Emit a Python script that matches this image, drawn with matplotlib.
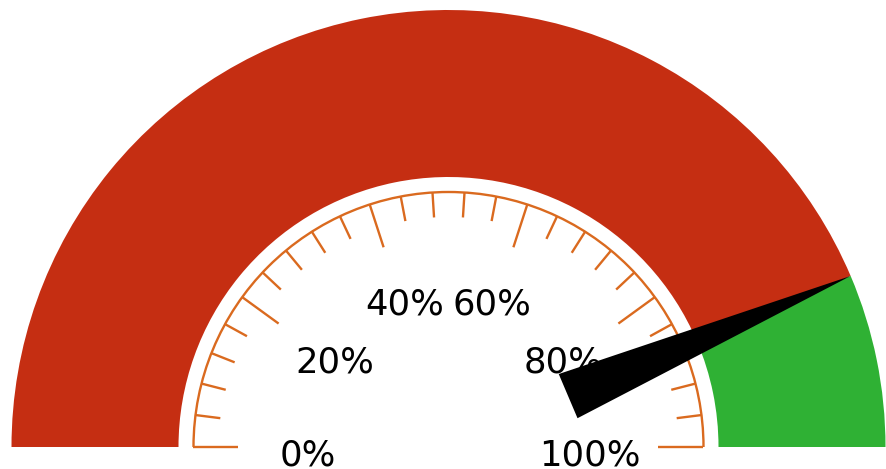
import numpy as np
import matplotlib
matplotlib.use("Agg")
import matplotlib.pyplot as plt
from matplotlib.patches import Wedge, Arc, Polygon

# ---- data ----
band_starts = [0, 87.2]
band_ends = [87.2, 100]
band_colors = ["#C52E12", "#2FB134"]
needle_value = 87.2
tick_labels = ["0%", "20%", "40%", "60%", "80%", "100%"]
label_values = [0, 20, 40, 60, 80, 100]
major_step = 20
minor_step = 4

# ---- layout ----
W, H = 886, 469
cx, cy = 448.5, 22.0
R_out, R_in = 437.0, 270.0
R_tick = 255.0
major_len, minor_len = 45.0, 25.0
tick_color = "#DA6A1F"

def ang(v):
    return np.deg2rad(180.0 - v / 100.0 * 180.0)

fig = plt.figure(figsize=(W / 100, H / 100), dpi=100)
ax = fig.add_axes([0, 0, 1, 1])
ax.set_xlim(0, W)
ax.set_ylim(0, H)
ax.set_aspect("equal")
ax.axis("off")

for s, e, c in zip(band_starts, band_ends, band_colors):
    t1 = np.rad2deg(ang(e))
    t2 = np.rad2deg(ang(s))
    ax.add_patch(Wedge((cx, cy), R_out, t1, t2, width=R_out - R_in,
                       facecolor=c, edgecolor="none", antialiased=True, zorder=1))

# tick arc
ax.add_patch(Arc((cx, cy), 2 * R_tick, 2 * R_tick, theta1=0, theta2=180,
                 color=tick_color, lw=1.7, zorder=2))
for v in np.arange(0, 100 + minor_step / 2, minor_step):
    a = ang(v)
    rem = v % major_step
    L = major_len if (rem < 1e-6 or abs(rem - major_step) < 1e-6) else minor_len
    ax.plot([cx + R_tick * np.cos(a), cx + (R_tick - L) * np.cos(a)],
            [cy + R_tick * np.sin(a), cy + (R_tick - L) * np.sin(a)],
            color=tick_color, lw=1.7, solid_capstyle="butt", zorder=2)

# labels
rx, ry = 141.0, 158.0
for v, lab in zip(label_values, tick_labels):
    a = ang(v)
    ax.text(cx + rx * np.cos(a), cy + ry * np.sin(a) - 8, lab,
            ha="center", va="center", fontsize=25.5, color="black",
            family="DejaVu Sans", zorder=3)

# needle
a = ang(needle_value)
r_base, half_w = 130.0, 24.0
d = np.array([np.cos(a), np.sin(a)])
p = np.array([-np.sin(a), np.cos(a)])
c0 = np.array([cx, cy])
base = c0 + r_base * d
tip = c0 + R_out * d
ax.add_patch(Polygon([base + half_w * p, tip, base - half_w * p],
                     closed=True, facecolor="black", edgecolor="none", zorder=5))

fig.savefig("out.png", dpi=100)
